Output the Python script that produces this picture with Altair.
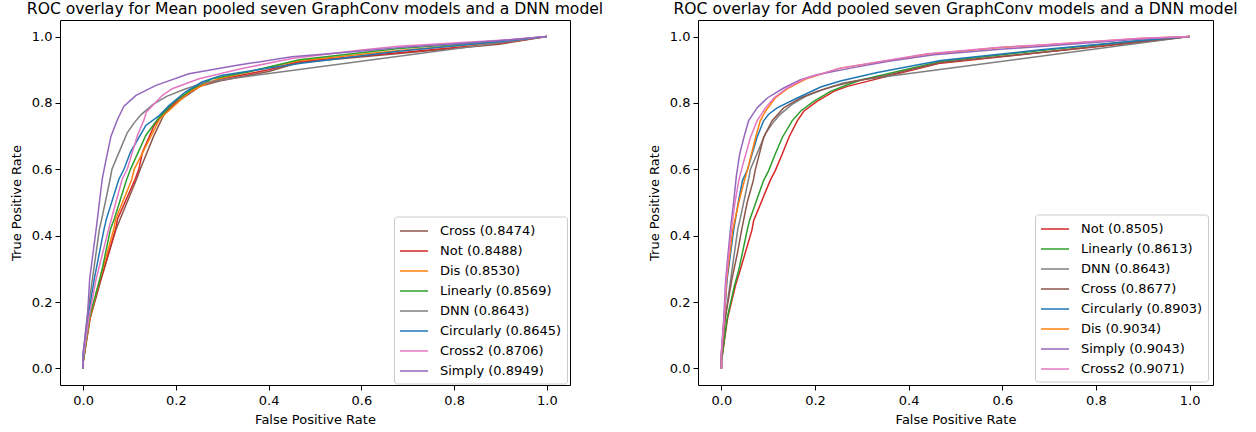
import altair as alt
import pandas as pd

# ---------------- legend entries (order as in the reference legends) ----------------
mean_models = ["Cross", "Not", "Dis", "Linearly", "DNN", "Circularly", "Cross2", "Simply"]
mean_auc = ["0.8474", "0.8488", "0.8530", "0.8569", "0.8643", "0.8645", "0.8706", "0.8949"]
add_models = ["Not", "Linearly", "DNN", "Cross", "Circularly", "Dis", "Simply", "Cross2"]
add_auc = ["0.8505", "0.8613", "0.8643", "0.8677", "0.8903", "0.9034", "0.9043", "0.9071"]

model_colors = {
    "Circularly": "#1f77b4", "Dis": "#ff7f0e", "Linearly": "#2ca02c", "Not": "#d62728",
    "Simply": "#9467bd", "Cross": "#8c564b", "Cross2": "#e377c2", "DNN": "#7f7f7f",
}

# ---------------- DNN curve (shared by both panels) ----------------
dnn_fpr = [0, 0.0, 0.008, 0.02, 0.035, 0.04, 0.058, 0.062, 0.08, 0.095, 0.11, 0.125, 0.15, 0.18, 0.22, 0.26, 0.30, 1.0]
dnn_tpr = [0, 0.04, 0.15, 0.27, 0.42, 0.45, 0.57, 0.60, 0.66, 0.71, 0.74, 0.765, 0.795, 0.82, 0.842, 0.86, 0.870, 1.0]

# ---------------- Mean pooled curves ----------------
mean_simply_fpr = [0, 0.0, 0.009, 0.014, 0.028, 0.041, 0.048, 0.06, 0.074, 0.088, 0.114, 0.157, 0.228, 0.329, 0.450, 0.595, 0.70, 0.80, 0.90, 1.0]
mean_simply_tpr = [0, 0.05, 0.15, 0.27, 0.42, 0.57, 0.62, 0.70, 0.75, 0.79, 0.823, 0.853, 0.888, 0.913, 0.939, 0.956, 0.969, 0.978, 0.988, 1.0]

mean_circ_fpr = [0, 0.0, 0.010, 0.024, 0.045, 0.050, 0.077, 0.088, 0.102, 0.135, 0.164, 0.185, 0.220, 0.256, 0.298, 0.40, 0.47, 0.68, 0.90, 1.0]
mean_circ_tpr = [0, 0.04, 0.15, 0.27, 0.42, 0.45, 0.57, 0.60, 0.652, 0.732, 0.762, 0.792, 0.833, 0.863, 0.883, 0.905, 0.920, 0.956, 0.985, 1.0]

mean_cross2_fpr = [0, 0.0, 0.012, 0.028, 0.055, 0.084, 0.095, 0.117, 0.132, 0.136, 0.171, 0.192, 0.25, 0.34, 0.45, 0.595, 0.68, 0.90, 1.0]
mean_cross2_tpr = [0, 0.03, 0.15, 0.27, 0.42, 0.57, 0.60, 0.702, 0.752, 0.772, 0.823, 0.843, 0.873, 0.903, 0.934, 0.959, 0.971, 0.989, 1.0]

mean_lin_fpr = [0, 0.0, 0.013, 0.036, 0.041, 0.059, 0.067, 0.094, 0.102, 0.135, 0.161, 0.196, 0.236, 0.278, 0.36, 0.466, 0.681, 0.897, 1.0]
mean_lin_tpr = [0, 0.02, 0.15, 0.27, 0.30, 0.42, 0.45, 0.57, 0.60, 0.702, 0.752, 0.803, 0.843, 0.873, 0.895, 0.930, 0.964, 0.986, 1.0]

mean_dis_fpr = [0, 0.0, 0.014, 0.036, 0.066, 0.070, 0.105, 0.110, 0.165, 0.229, 0.264, 0.292, 0.36, 0.466, 0.681, 0.897, 1.0]
mean_dis_tpr = [0, 0.02, 0.15, 0.27, 0.42, 0.45, 0.57, 0.60, 0.752, 0.833, 0.858, 0.873, 0.895, 0.927, 0.958, 0.983, 1.0]

mean_not_fpr = [0, 0.0, 0.014, 0.038, 0.070, 0.074, 0.112, 0.120, 0.128, 0.153, 0.175, 0.207, 0.250, 0.30, 0.40, 0.466, 0.681, 0.897, 1.0]
mean_not_tpr = [0, 0.02, 0.15, 0.27, 0.42, 0.45, 0.57, 0.60, 0.652, 0.732, 0.772, 0.813, 0.853, 0.872, 0.900, 0.925, 0.951, 0.979, 1.0]

mean_cross_fpr = [0, 0.0, 0.015, 0.039, 0.071, 0.115, 0.123, 0.152, 0.176, 0.21, 0.252, 0.30, 0.40, 0.466, 0.681, 0.897, 1.0]
mean_cross_tpr = [0, 0.02, 0.15, 0.27, 0.42, 0.57, 0.60, 0.70, 0.77, 0.81, 0.85, 0.868, 0.895, 0.922, 0.949, 0.977, 1.0]

# ---------------- Add pooled curves ----------------
add_simply_fpr = [0, 0.0, 0.005, 0.009, 0.019, 0.026, 0.032, 0.039, 0.048, 0.058, 0.076, 0.098, 0.133, 0.169, 0.204, 0.276, 0.354, 0.454, 0.596, 0.682, 0.895, 1.0]
add_simply_tpr = [0, 0.05, 0.15, 0.266, 0.416, 0.50, 0.58, 0.646, 0.696, 0.746, 0.785, 0.815, 0.845, 0.870, 0.885, 0.905, 0.925, 0.945, 0.962, 0.970, 0.993, 1.0]

add_cross2_fpr = [0, 0.0, 0.006, 0.010, 0.021, 0.029, 0.037, 0.044, 0.062, 0.076, 0.094, 0.112, 0.140, 0.176, 0.254, 0.44, 0.596, 0.682, 0.895, 1.0]
add_cross2_tpr = [0, 0.05, 0.15, 0.266, 0.416, 0.50, 0.566, 0.605, 0.696, 0.746, 0.785, 0.815, 0.845, 0.872, 0.905, 0.948, 0.968, 0.975, 0.995, 1.0]

add_dis_fpr = [0, 0.0, 0.006, 0.011, 0.024, 0.037, 0.049, 0.056, 0.073, 0.083, 0.094, 0.115, 0.143, 0.18, 0.254, 0.44, 0.596, 0.682, 0.895, 1.0]
add_dis_tpr = [0, 0.04, 0.15, 0.266, 0.416, 0.50, 0.566, 0.60, 0.696, 0.746, 0.775, 0.815, 0.845, 0.872, 0.905, 0.947, 0.967, 0.974, 0.994, 1.0]

add_circ_fpr = [0, 0.0, 0.006, 0.012, 0.026, 0.036, 0.045, 0.056, 0.076, 0.090, 0.101, 0.119, 0.162, 0.212, 0.254, 0.333, 0.468, 0.682, 0.895, 1.0]
add_circ_tpr = [0, 0.04, 0.15, 0.266, 0.416, 0.50, 0.566, 0.60, 0.696, 0.746, 0.766, 0.785, 0.815, 0.848, 0.866, 0.892, 0.928, 0.960, 0.988, 1.0]

add_cross_fpr = [0, 0.0, 0.008, 0.022, 0.034, 0.043, 0.055, 0.068, 0.072, 0.090, 0.108, 0.133, 0.169, 0.204, 0.240, 0.283, 0.35, 0.468, 0.682, 0.895, 1.0]
add_cross_tpr = [0, 0.03, 0.15, 0.266, 0.346, 0.416, 0.50, 0.566, 0.596, 0.696, 0.746, 0.785, 0.815, 0.835, 0.850, 0.865, 0.882, 0.922, 0.952, 0.985, 1.0]

add_lin_fpr = [0, 0.0, 0.012, 0.028, 0.037, 0.055, 0.060, 0.090, 0.101, 0.115, 0.130, 0.151, 0.169, 0.197, 0.233, 0.269, 0.30, 0.468, 0.682, 0.895, 1.0]
add_lin_tpr = [0, 0.02, 0.15, 0.25, 0.296, 0.416, 0.446, 0.566, 0.596, 0.646, 0.696, 0.746, 0.775, 0.805, 0.835, 0.855, 0.870, 0.925, 0.958, 0.988, 1.0]

add_not_fpr = [0, 0.0, 0.013, 0.030, 0.040, 0.065, 0.069, 0.104, 0.115, 0.130, 0.144, 0.162, 0.176, 0.204, 0.240, 0.269, 0.32, 0.468, 0.682, 0.895, 1.0]
add_not_tpr = [0, 0.02, 0.15, 0.25, 0.296, 0.416, 0.446, 0.566, 0.596, 0.646, 0.696, 0.746, 0.775, 0.805, 0.835, 0.850, 0.868, 0.920, 0.952, 0.983, 1.0]

mean_curves = {
    "Cross": (mean_cross_fpr, mean_cross_tpr), "Not": (mean_not_fpr, mean_not_tpr),
    "Dis": (mean_dis_fpr, mean_dis_tpr), "Linearly": (mean_lin_fpr, mean_lin_tpr),
    "DNN": (dnn_fpr, dnn_tpr), "Circularly": (mean_circ_fpr, mean_circ_tpr),
    "Cross2": (mean_cross2_fpr, mean_cross2_tpr), "Simply": (mean_simply_fpr, mean_simply_tpr),
}
add_curves = {
    "Not": (add_not_fpr, add_not_tpr), "Linearly": (add_lin_fpr, add_lin_tpr),
    "DNN": (dnn_fpr, dnn_tpr), "Cross": (add_cross_fpr, add_cross_tpr),
    "Circularly": (add_circ_fpr, add_circ_tpr), "Dis": (add_dis_fpr, add_dis_tpr),
    "Simply": (add_simply_fpr, add_simply_tpr), "Cross2": (add_cross2_fpr, add_cross2_tpr),
}

FONT = "DejaVu Sans"
ticks = [0.0, 0.2, 0.4, 0.6, 0.8, 1.0]


def panel(models, aucs, curves, title, w, h, lx, ly, toff):
    labels = [f"{m} ({a})" for m, a in zip(models, aucs)]
    colors = [model_colors[m] for m in models]
    color = alt.Color(
        "label:N",
        scale=alt.Scale(domain=labels, range=colors),
        legend=alt.Legend(
            title=None, orient="none", legendX=lx, legendY=ly,
            symbolType="M-1,0H2.3", symbolSize=289, symbolStrokeWidth=1.5,
            labelOffset=22, labelFont=FONT, labelFontSize=13, labelColor="black",
            padding=5, rowPadding=3, strokeColor="#cccccc", fillColor="white",
            cornerRadius=3, labelLimit=300,
        ),
    )
    x = alt.X("fpr:Q", scale=alt.Scale(domain=[-0.05, 1.05], nice=False, zero=False),
              axis=alt.Axis(title="False Positive Rate", values=ticks, format=".1f",
                            titlePadding=6, labelPadding=4))
    y = alt.Y("tpr:Q", scale=alt.Scale(domain=[-0.05, 1.05], nice=False, zero=False),
              axis=alt.Axis(title="True Positive Rate", values=ticks, format=".1f", titlePadding=7.5))
    layers = []
    for m, lab in zip(models, labels):
        f, t = curves[m]
        df = pd.DataFrame({"fpr": f, "tpr": t, "label": lab, "i": list(range(len(f)))})
        layers.append(
            alt.Chart(df).mark_line(strokeWidth=1.5).encode(x=x, y=y, color=color, order="i:Q")
        )
    return alt.layer(*layers).properties(
        width=w, height=h,
        title=alt.Title(title, font=FONT, fontSize=15.6, fontWeight="normal", color="black",
                        anchor="middle", offset=toff),
    )


left = panel(mean_models, mean_auc, mean_curves,
             "ROC overlay for Mean pooled seven GraphConv models and a DNN model",
             510, 365, 334, 196.5, 2)
right = panel(add_models, add_auc, add_curves,
              "ROC overlay for Add pooled seven GraphConv models and a DNN model",
              515, 365, 337, 194.5, 2)

chart = (
    alt.hconcat(left, right, spacing=44)
    .resolve_scale(color="independent")
    .properties(padding={"left": 10, "top": 1, "right": 5, "bottom": 5})
    .configure_view(stroke="black", strokeWidth=1)
    .configure_axis(
        labelFont=FONT, labelFontSize=13, labelColor="black",
        titleFont=FONT, titleFontSize=13, titleFontWeight="normal", titleColor="black",
        tickColor="black", tickSize=5, tickWidth=1, labelPadding=3,
        grid=False, domain=False, labelFlush=False,
    )
)

chart.save("out.html", embed_options={"renderer": "svg", "actions": False})
